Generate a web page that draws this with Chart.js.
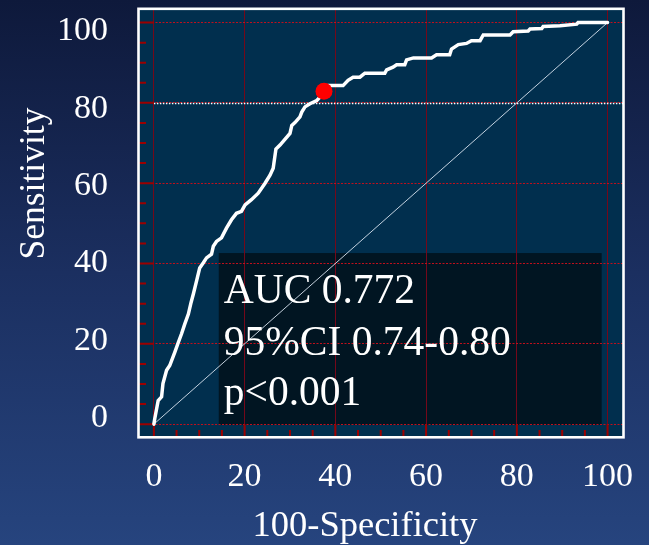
<!DOCTYPE html>
<html>
<head>
<meta charset="utf-8">
<script src="https://cdn.jsdelivr.net/npm/chart.js@4.4.1/dist/chart.umd.min.js"></script>
<style>
html,body{margin:0;padding:0;background:#1a2c5c;overflow:hidden;}
#c{display:block;}
</style>
</head>
<body>
<canvas id="c" width="649" height="545" style="width:649px;height:545px"></canvas>
<script>
// ---- data ----
const rocX = [0,0.2,0.95,1.7,2.0,2.8,3.5,4.6,5.4,6.1,6.8,7.6,8.2,8.7,9.4,10.1,10.9,11.6,12.7,13.1,13.8,14.9,16.0,17.1,18.2,19.3,20.1,21.5,23.0,24.5,25.6,26.3,26.9,27.8,30.0,30.4,31.1,32.2,32.6,33.3,34.4,35.9,36.6,37.5,38.5,41.7,42.8,43.9,45.4,46.5,50.9,51.3,52.7,53.5,55.3,55.7,57.2,61.2,62.3,65.2,65.6,67.1,68.9,70.0,71.9,72.6,78.5,79.2,82.5,82.9,85.5,85.8,89.5,93.2,93.5,100];
const rocY = [0,1.4,5.9,6.8,10.1,13.4,14.6,17.9,20.4,22.5,24.9,27.4,30.3,32.4,35.6,38.9,40.2,41.4,42.3,44.3,45.5,46.4,48.8,50.9,52.5,53.0,54.6,55.9,57.5,60.0,62.0,63.7,68.5,69.5,72.4,74.4,75.1,76.5,77.7,79.0,79.8,80.6,81.4,82.9,84.3,84.3,85.6,86.4,86.4,87.4,87.4,88.2,88.9,89.5,89.5,90.7,91.2,91.2,92.0,92.0,93.4,94.5,94.8,95.5,95.5,96.9,96.9,97.7,97.9,98.4,98.5,99.0,99.2,99.6,100,100];
const diagX = [0, 100];
const diagY = [0, 100];
const cutoffX = [37.5];
const cutoffY = [82.9];
const refLineSensitivity = 80;
const tickValues = [0, 20, 40, 60, 80, 100];
const minorTickValues = [5,10,15,25,30,35,45,50,55,65,70,75,85,90,95];
const statsLines = ['AUC 0.772', '95%CI 0.74-0.80', 'p<0.001'];
const xTitle = '100-Specificity';
const yTitle = 'Sensitivity';

// ---- style ----
const SERIF = "'Liberation Serif','Times New Roman',serif";
const VGRID_RED = '#74081a';
const HGRID_RED = '#c0101c';
const TICK_RED = '#9c0000';

const setTicks = s => { s.ticks = tickValues.map(v => ({value: v})); };
const noPad = s => { s.paddingTop = 0; s.paddingBottom = 0; s.paddingLeft = 0; s.paddingRight = 0; };

const decor = {
  id: 'decor',
  beforeDraw(chart) {
    const {ctx, chartArea: a, width, height} = chart;
    const xs = chart.scales.x, ys = chart.scales.y;
    ctx.save();
    const g = ctx.createLinearGradient(0, 0, 0, height);
    g.addColorStop(0, '#0e193b');
    g.addColorStop(0.5, '#1b2f60');
    g.addColorStop(1, '#26447e');
    ctx.fillStyle = g;
    ctx.fillRect(0, 0, width, height);
    ctx.fillStyle = '#012f4e';
    ctx.fillRect(a.left, a.top, a.right - a.left, a.bottom - a.top);
    // stats box
    const bx1 = xs.getPixelForValue(14.3), bx2 = xs.getPixelForValue(98.7);
    const by1 = ys.getPixelForValue(42.6), by2 = ys.getPixelForValue(-0.2);
    ctx.fillStyle = '#011522';
    ctx.fillRect(bx1, by1, bx2 - bx1, by2 - by1);
    ctx.restore();
  },
  beforeDatasetsDraw(chart) {
    const {ctx, chartArea: a} = chart;
    const xs = chart.scales.x, ys = chart.scales.y;
    ctx.save();
    // white dotted reference line
    const ry = Math.round(ys.getPixelForValue(refLineSensitivity)) + 0.5;
    ctx.strokeStyle = '#ffffff';
    ctx.lineWidth = 1.3;
    ctx.setLineDash([1.5, 1.5]);
    ctx.beginPath();
    ctx.moveTo(xs.getPixelForValue(0), ry);
    ctx.lineTo(a.right, ry);
    ctx.stroke();
    ctx.setLineDash([]);
    // inward ticks
    ctx.strokeStyle = TICK_RED;
    ctx.lineWidth = 2;
    const x0 = xs.getPixelForValue(0), y0 = ys.getPixelForValue(0);
    ctx.beginPath();
    tickValues.forEach(v => {
      const px = xs.getPixelForValue(v);
      ctx.moveTo(px, a.bottom); ctx.lineTo(px, y0);
      const py = ys.getPixelForValue(v);
      ctx.moveTo(a.left, py); ctx.lineTo(x0, py);
    });
    minorTickValues.forEach(v => {
      const px = xs.getPixelForValue(v);
      ctx.moveTo(px, a.bottom); ctx.lineTo(px, a.bottom - 7);
      const py = ys.getPixelForValue(v);
      ctx.moveTo(a.left, py); ctx.lineTo(a.left + 8, py);
    });
    ctx.stroke();
    ctx.restore();
  },
  afterDraw(chart) {
    const {ctx, chartArea: a} = chart;
    const xs = chart.scales.x;
    ctx.save();
    // frame
    ctx.strokeStyle = '#ffffff';
    ctx.lineWidth = 2.6;
    ctx.strokeRect(a.left + 0.5, a.top + 0.3, a.right - a.left, a.bottom - a.top);
    // stats text
    ctx.fillStyle = '#ffffff';
    ctx.font = '41.5px ' + SERIF;
    ctx.textAlign = 'left';
    ctx.textBaseline = 'alphabetic';
    const tx = xs.getPixelForValue(15.4);
    const baselines = [303, 355, 405];
    statsLines.forEach((t, i) => ctx.fillText(t, tx, baselines[i]));
    // x title
    ctx.font = '36.5px ' + SERIF;
    ctx.textAlign = 'center';
    ctx.fillText(xTitle, 365, 536);
    // y title
    ctx.font = '35.5px ' + SERIF;
    ctx.translate(44, 183.5);
    ctx.rotate(-Math.PI / 2);
    ctx.fillText(yTitle, 0, 0);
    ctx.restore();
  }
};

new Chart(document.getElementById('c'), {
  type: 'line',
  data: {
    datasets: [
      {
        type: 'scatter',
        data: cutoffX.map((x, i) => ({x, y: cutoffY[i]})),
        backgroundColor: '#ff0000',
        borderColor: '#ff0000',
        pointRadius: 8.5,
        pointHoverRadius: 8.5,
        borderWidth: 0,
        xAxisID: 'x', yAxisID: 'y',
        order: 0
      },
      {
        data: rocX.map((x, i) => ({x, y: rocY[i]})),
        borderColor: '#ffffff',
        borderWidth: 3.5,
        pointRadius: 0,
        tension: 0,
        fill: false,
        borderCapStyle: 'round',
        xAxisID: 'x', yAxisID: 'y',
        order: 1
      },
      {
        data: diagX.map((x, i) => ({x, y: diagY[i]})),
        borderColor: 'rgba(215,226,238,0.9)',
        borderWidth: 1,
        pointRadius: 0,
        tension: 0,
        fill: false,
        xAxisID: 'x', yAxisID: 'y',
        order: 2
      }
    ]
  },
  options: {
    responsive: false,
    animation: false,
    devicePixelRatio: 1,
    layout: {padding: {top: 6, right: 26, left: 0, bottom: 0}},
    plugins: {legend: {display: false}, tooltip: {enabled: false}},
    events: [],
    scales: {
      x: {
        type: 'linear', position: 'bottom', min: -3.5, max: 103.4,
        afterBuildTicks: setTicks,
        afterFit: s => { s.height = 108; noPad(s); },
        grid: {color: VGRID_RED, lineWidth: 1, drawTicks: false},
        border: {display: false},
        ticks: {color: '#ffffff', font: {family: SERIF, size: 34}, padding: 20, maxRotation: 0, autoSkip: false}
      },
      y: {
        type: 'linear', position: 'left', min: -3.2, max: 103.5,
        afterBuildTicks: setTicks,
        afterFit: s => { s.width = 0; noPad(s); },
        grid: {color: HGRID_RED, lineWidth: 1, drawTicks: false},
        border: {display: false, dash: [2, 1.5]},
        ticks: {display: false}
      },
      yl: {
        type: 'linear', position: 'left', min: -4.94, max: 105.91,
        afterBuildTicks: setTicks,
        afterFit: s => { s.width = 138; noPad(s); },
        grid: {display: false, drawTicks: false},
        border: {display: false},
        ticks: {color: '#ffffff', font: {family: SERIF, size: 34}, padding: 30, autoSkip: false}
      }
    }
  },
  plugins: [decor]
});
</script>
</body>
</html>
